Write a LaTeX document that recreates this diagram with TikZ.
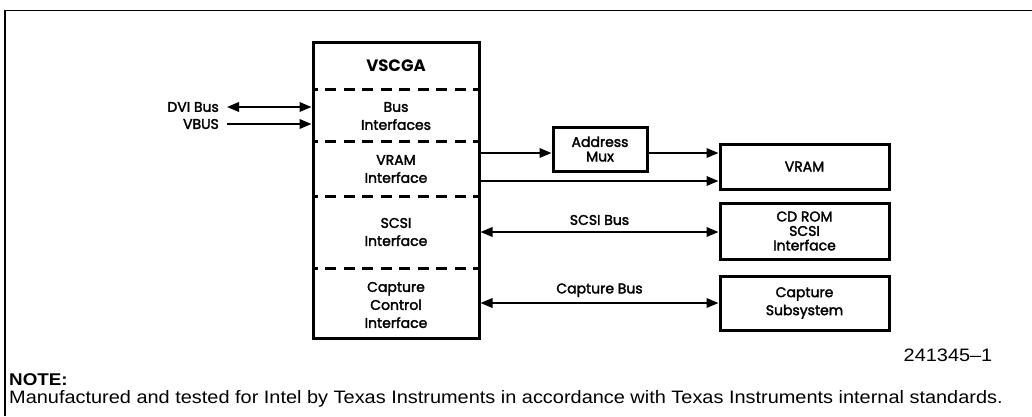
\documentclass[tikz,border=0pt]{standalone}
\usepackage{fontspec}
\setmainfont{Liberation Sans}
\newfontfamily\geo[FakeBold=2.2]{Poppins}
\newfontfamily\geobold{Poppins}
\newfontfamily\notefont[FakeStretch=1.107]{Liberation Sans}
\usetikzlibrary{arrows.meta}
\tikzset{
  blk/.style={draw, line width=3pt, rectangle, inner sep=0pt, font=\geo\fontsize{14}{14.5}\selectfont, align=center},
  lbl/.style={inner sep=0pt, font=\geo\fontsize{14}{18}\selectfont, align=center},
  tip/.tip={Triangle[length=12pt,width=9.5pt]},
  arr/.style={line width=2pt, -tip},
  darr/.style={line width=2pt, tip-tip},
  sep/.style={line width=3pt, dash pattern=on 11pt off 7.5pt, dash phase=5pt},
}
\begin{document}
\begin{tikzpicture}[x=1pt, y=-1pt]
\useasboundingbox (0,0) rectangle (1032,416);
% outer frame
\draw[line width=1.5pt] (1032,10.5) -- (5,10.5) -- (5,416);

% main controller block
\node[blk, minimum width=166pt, minimum height=296pt] (vscga) at (396,190) {};
\node[lbl, font=\geobold\bfseries\fontsize{16.5}{18}\selectfont] (title) at (396,66) {VSCGA};
\draw[sep] (vscga.west |- 0,89)  -- (vscga.east |- 0,89);
\draw[sep] (vscga.west |- 0,141) -- (vscga.east |- 0,141);
\draw[sep] (vscga.west |- 0,196) -- (vscga.east |- 0,196);
\draw[sep] (vscga.west |- 0,268) -- (vscga.east |- 0,268);
\node[lbl] (busif) at (396,116) {Bus\\Interfaces};
\node[lbl] (vramif) at (396,169) {VRAM\\Interface};
\node[lbl] (scsiif) at (396,232) {SCSI\\Interface};
\node[lbl] (capif) at (396,305) {Capture\\Control\\Interface};

% peripheral blocks
\node[blk, minimum width=94pt, minimum height=44pt] (mux) at (600,149) {Address\\Mux};
\node[blk, minimum width=169pt, minimum height=45pt] (vram) at (804.5,166.5) {VRAM};
\node[blk, minimum width=169pt, minimum height=56pt] (cdrom) at (804.5,231) {CD ROM\\SCSI\\Interface};
\node[blk, minimum width=169pt, minimum height=54pt, font=\geo\fontsize{14}{18}\selectfont] (capsub) at (804.5,303) {Capture\\Subsystem};

% host bus inputs
\node[lbl, anchor=east] (dvi) at (219,107) {DVI Bus};
\node[lbl, anchor=east] (vbus) at (219,124) {VBUS};
\draw[darr] (dvi.east |- 0,107) ++(8,0) coordinate (dvis) -- (vscga.west |- 0,107);
\draw[arr] (vbus.east |- 0,124) ++(8,0) coordinate (vbs) -- (vscga.west |- 0,124);

% address and data paths
\draw[arr] (vscga.east |- 0,153) -- (mux.west |- 0,153);
\draw[arr] (mux.east |- 0,153) -- (vram.west |- 0,153);
\draw[arr] (vscga.east |- 0,181) -- (vram.west |- 0,181);
\draw[darr] (vscga.east |- 0,232) -- node[lbl, above=6pt] (scsibus) {SCSI Bus} (cdrom.west |- 0,232);
\draw[darr] (vscga.east |- 0,303) -- node[lbl, above=5pt] (capbus) {Capture Bus} (capsub.west |- 0,303);

% figure number and note
\node[anchor=center, inner sep=0pt, font=\notefont\fontsize{18}{20}\selectfont] (fignum) at (948,355) {241345–1};
\node[anchor=west, inner sep=0pt, font=\notefont\bfseries\fontsize{17}{19}\selectfont] (note) at (9,380) {NOTE:};
\node[anchor=west, inner sep=0pt, font=\notefont\fontsize{18}{20}\selectfont] (notetext) at (9,399) {Manufactured and tested for Intel by Texas Instruments in accordance with Texas Instruments internal standards.};
\end{tikzpicture}
\end{document}
